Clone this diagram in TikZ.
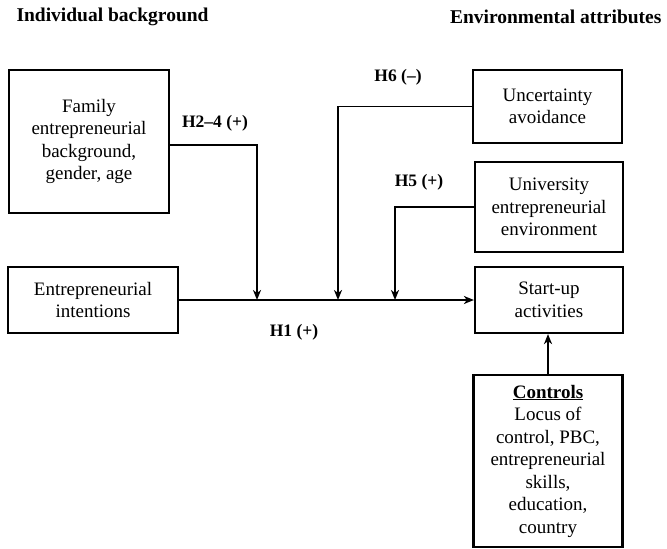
\documentclass[tikz,border=0pt]{standalone}
\usepackage{fontspec}
\setmainfont{Liberation Serif}
\usetikzlibrary{arrows.meta}
\begin{document}
\begin{tikzpicture}[x=1pt,y=-1pt,
  box/.style={draw, line width=2.2pt, align=center, inner sep=0pt, font=\fontsize{19}{22.5}\selectfont},
  lbl/.style={font=\fontsize{17.5}{20}\selectfont\bfseries},
  hdr/.style={font=\fontsize{19.5}{22}\selectfont\bfseries},
  arr/.style={line width=1.9pt, -{Stealth[length=10pt,width=8pt,inset=3pt]}}]
\useasboundingbox (0,0) rectangle (667,549);

\node[hdr, anchor=west] (h1) at (13,17) {Individual background};
\node[hdr, anchor=east] (h2) at (665,17) {Environmental attributes};

\node[box, minimum width=160, minimum height=143] (fam) at (89,141.5)
  {Family\\entrepreneurial\\background,\\gender, age};
\node[box, minimum width=170, minimum height=66] (ei) at (93,300)
  {Entrepreneurial\\intentions};
\node[box, minimum width=149, minimum height=73] (ua) at (547.5,106.5)
  {Uncertainty\\avoidance};
\node[box, minimum width=148, minimum height=90] (uee) at (549,207)
  {University\\entrepreneurial\\environment};
\node[box, minimum width=148, minimum height=66] (sa) at (549,300)
  {Start-up\\activities};
\node[box, minimum width=149, minimum height=172] (ctrl) at (548,461)
  {\underline{\textbf{Controls}}\\Locus of\\control, PBC,\\entrepreneurial\\skills,\\education,\\country};

\coordinate (j1) at (257,300);
\coordinate (j2) at (338,300);
\coordinate (j3) at (395,300);

\draw[arr] (ei.east) -- (sa.west);
\draw[arr] ([yshift=-3.5pt]fam.east) -| (j1);
\draw[arr] (ua.west) -| (j2);
\draw[arr] (uee.west) -| (j3);
\draw[arr] (ctrl.north) -- (ctrl.north |- sa.south);

\node[lbl] (l24) at (215,123) {H2–4 (+)};
\node[lbl] (l6) at (398,77) {H6 (–)};
\node[lbl] (l5) at (419,182) {H5 (+)};
\node[lbl] (l1) at (294,332) {H1 (+)};
\end{tikzpicture}
\end{document}
